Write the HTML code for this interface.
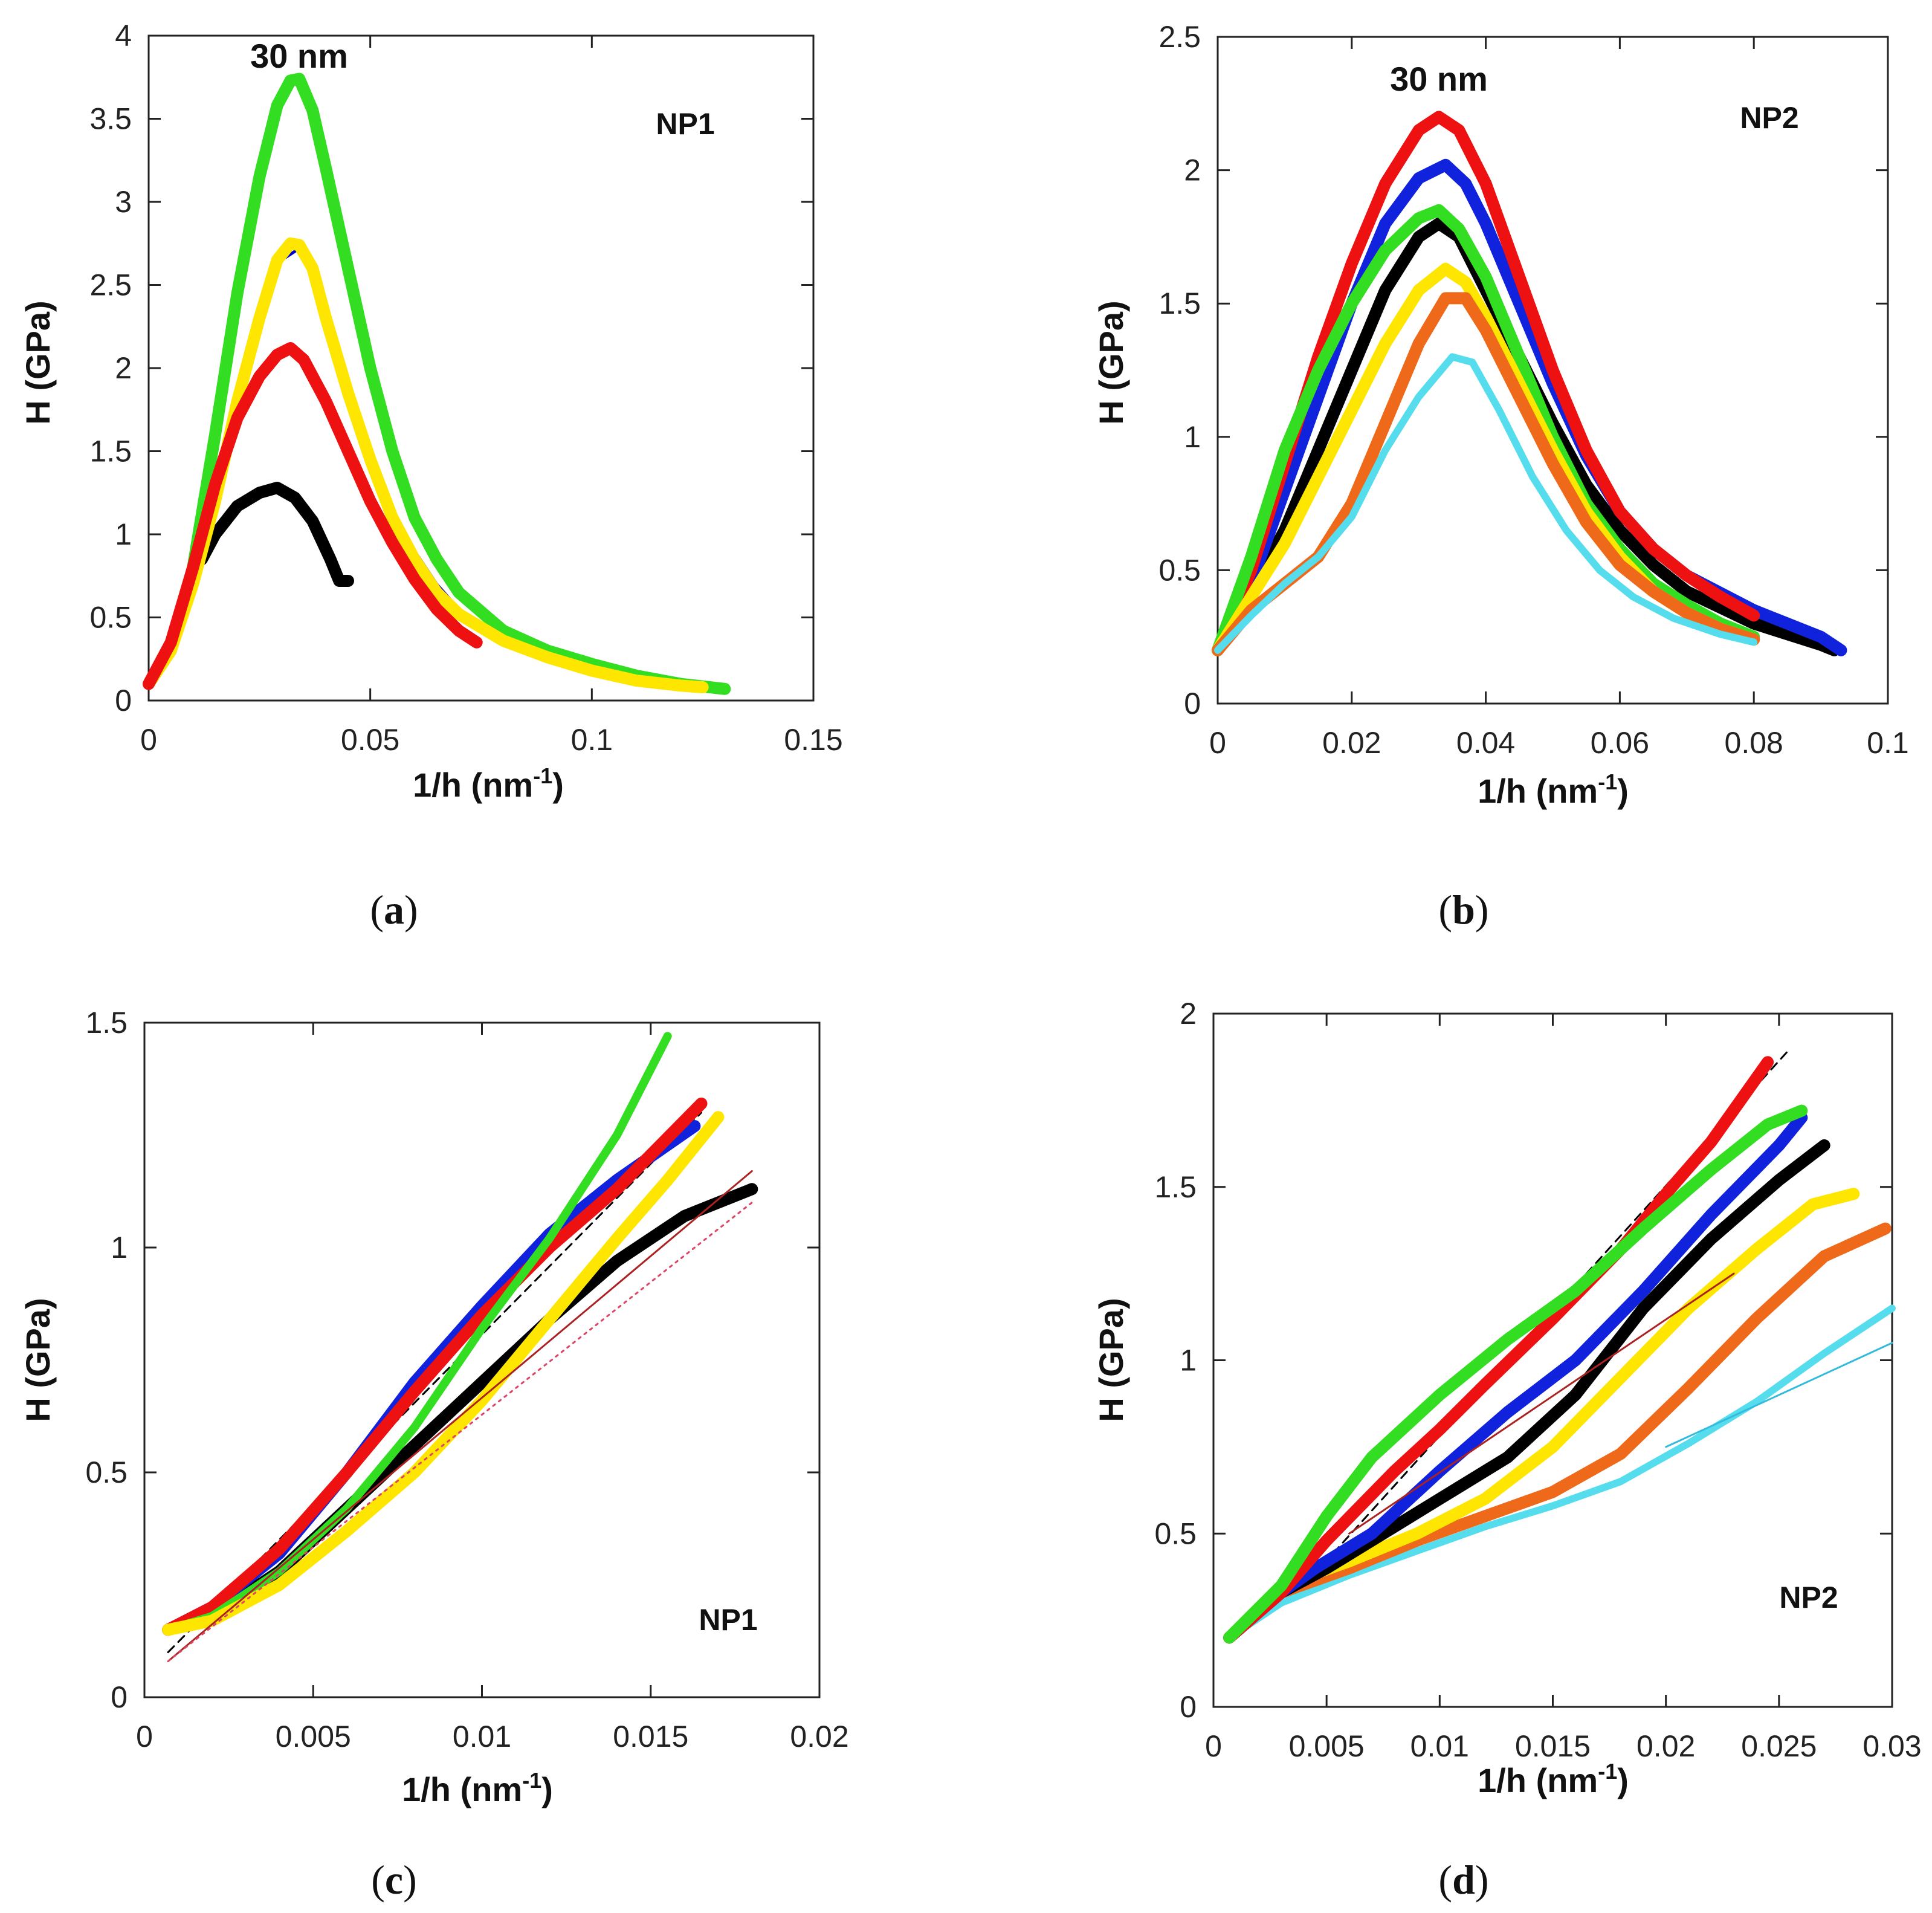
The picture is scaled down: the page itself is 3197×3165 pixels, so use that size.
<!DOCTYPE html>
<html><head><meta charset="utf-8">
<style>
html,body{margin:0;padding:0;background:#fff;}
svg{display:block;}
</style></head>
<body>
<svg id="fig" width="3197" height="3165" viewBox="0 0 3197 3165" xmlns="http://www.w3.org/2000/svg" font-family="Liberation Sans, sans-serif"></svg>
<script>
// ---------- Panel (a) data ----------
const aX = ["0","0.05","0.1","0.15"];
const aXv = [0,0.05,0.1,0.15];
const aYv = [0,0.5,1,1.5,2,2.5,3,3.5,4];
const aYl = ["0","0.5","1","1.5","2","2.5","3","3.5","4"];
const aGreen = [[0,0.1],[0.005,0.3],[0.01,0.8],[0.015,1.6],[0.02,2.45],[0.025,3.15],[0.029,3.58],[0.032,3.73],[0.034,3.74],[0.037,3.55],[0.04,3.2],[0.045,2.6],[0.05,2.0],[0.055,1.5],[0.06,1.1],[0.065,0.85],[0.07,0.65],[0.08,0.42],[0.09,0.3],[0.1,0.22],[0.11,0.15],[0.12,0.1],[0.13,0.07]];
const aBlue = [[0,0.1],[0.005,0.3],[0.01,0.7],[0.015,1.2],[0.02,1.8],[0.025,2.3],[0.03,2.65],[0.034,2.72],[0.037,2.6],[0.04,2.3],[0.045,1.9],[0.05,1.5],[0.055,1.15],[0.06,0.9],[0.065,0.7],[0.07,0.55],[0.08,0.38],[0.09,0.27],[0.1,0.19],[0.11,0.13]];
const aYellow = [[0,0.1],[0.005,0.3],[0.01,0.7],[0.015,1.2],[0.02,1.8],[0.025,2.3],[0.029,2.65],[0.032,2.75],[0.034,2.74],[0.037,2.6],[0.04,2.3],[0.045,1.85],[0.05,1.45],[0.055,1.1],[0.06,0.85],[0.065,0.65],[0.07,0.52],[0.08,0.36],[0.09,0.26],[0.1,0.18],[0.11,0.12],[0.12,0.09],[0.125,0.08]];
const aRed = [[0,0.1],[0.005,0.35],[0.01,0.8],[0.015,1.3],[0.02,1.7],[0.025,1.95],[0.029,2.08],[0.032,2.12],[0.035,2.05],[0.04,1.8],[0.045,1.5],[0.05,1.2],[0.055,0.95],[0.06,0.73],[0.065,0.55],[0.07,0.42],[0.074,0.35]];
const aBlack = [[0.012,0.85],[0.015,1.0],[0.02,1.17],[0.025,1.25],[0.029,1.28],[0.033,1.22],[0.037,1.08],[0.041,0.85],[0.043,0.72],[0.045,0.72]];

// ---------- Panel (b) data ----------
const bXv = [0,0.02,0.04,0.06,0.08,0.1];
const bXl = ["0","0.02","0.04","0.06","0.08","0.1"];
const bYv = [0,0.5,1,1.5,2,2.5];
const bYl = ["0","0.5","1","1.5","2","2.5"];
const bCyan = [[0,0.2],[0.005,0.33],[0.01,0.45],[0.015,0.55],[0.02,0.7],[0.025,0.95],[0.03,1.15],[0.035,1.3],[0.038,1.28],[0.042,1.1],[0.047,0.85],[0.052,0.65],[0.057,0.5],[0.062,0.4],[0.068,0.32],[0.075,0.26],[0.08,0.23]];
const bYellow = [[0,0.2],[0.005,0.4],[0.01,0.6],[0.015,0.85],[0.02,1.1],[0.025,1.35],[0.03,1.55],[0.034,1.63],[0.037,1.58],[0.04,1.45],[0.045,1.2],[0.05,0.95],[0.055,0.72],[0.06,0.55],[0.065,0.42],[0.07,0.34],[0.075,0.28],[0.08,0.24]];
const bBlack = [[0,0.2],[0.005,0.42],[0.01,0.65],[0.015,0.95],[0.02,1.25],[0.025,1.55],[0.03,1.75],[0.033,1.8],[0.036,1.75],[0.04,1.55],[0.045,1.3],[0.05,1.05],[0.055,0.82],[0.06,0.65],[0.065,0.52],[0.07,0.42],[0.08,0.3],[0.09,0.22],[0.092,0.2]];
const bBlue = [[0,0.2],[0.005,0.45],[0.01,0.8],[0.015,1.15],[0.02,1.5],[0.025,1.8],[0.03,1.97],[0.034,2.02],[0.037,1.95],[0.04,1.8],[0.045,1.5],[0.05,1.2],[0.055,0.93],[0.06,0.72],[0.065,0.58],[0.07,0.48],[0.08,0.35],[0.09,0.25],[0.093,0.2]];
const bRed = [[0,0.2],[0.005,0.5],[0.01,0.9],[0.015,1.3],[0.02,1.65],[0.025,1.95],[0.03,2.15],[0.033,2.2],[0.036,2.15],[0.04,1.95],[0.045,1.6],[0.05,1.25],[0.055,0.95],[0.06,0.72],[0.065,0.58],[0.07,0.48],[0.075,0.4],[0.08,0.33]];
const bGreen = [[0,0.2],[0.005,0.55],[0.01,0.95],[0.015,1.25],[0.02,1.5],[0.025,1.7],[0.03,1.82],[0.033,1.85],[0.036,1.78],[0.04,1.6],[0.045,1.3],[0.05,1.0],[0.055,0.75],[0.06,0.58],[0.065,0.45],[0.07,0.37],[0.075,0.3],[0.08,0.25]];
const bOrange = [[0,0.2],[0.005,0.35],[0.01,0.45],[0.015,0.55],[0.02,0.75],[0.025,1.05],[0.03,1.35],[0.034,1.52],[0.037,1.52],[0.04,1.4],[0.045,1.15],[0.05,0.9],[0.055,0.68],[0.06,0.52],[0.065,0.42],[0.07,0.34],[0.075,0.28],[0.08,0.24]];

// ---------- Panel (c) data ----------
const cXv = [0,0.005,0.01,0.015,0.02];
const cXl = ["0","0.005","0.01","0.015","0.02"];
const cYv = [0,0.5,1,1.5];
const cYl = ["0","0.5","1","1.5"];
const cBlack = [[0.0007,0.15],[0.002,0.18],[0.004,0.28],[0.006,0.42],[0.008,0.56],[0.01,0.7],[0.012,0.84],[0.014,0.97],[0.016,1.07],[0.018,1.13]];
const cBlue = [[0.0007,0.15],[0.002,0.2],[0.004,0.32],[0.006,0.5],[0.008,0.7],[0.01,0.87],[0.012,1.03],[0.014,1.15],[0.0163,1.27]];
const cRed = [[0.0007,0.15],[0.002,0.2],[0.004,0.33],[0.006,0.5],[0.008,0.68],[0.01,0.85],[0.012,1.0],[0.014,1.13],[0.0165,1.32]];
const cGreen = [[0.0007,0.15],[0.002,0.18],[0.004,0.28],[0.006,0.42],[0.008,0.6],[0.01,0.82],[0.012,1.02],[0.014,1.25],[0.0155,1.47]];
const cYellow = [[0.0007,0.15],[0.002,0.17],[0.004,0.25],[0.006,0.37],[0.008,0.5],[0.01,0.66],[0.012,0.84],[0.014,1.02],[0.0155,1.15],[0.017,1.29]];
const cFitBlack = [[0.0007,0.1],[0.0165,1.3]];
const cFitRed = [[0.0007,0.08],[0.018,1.17]];
const cFitPink = [[0.0007,0.08],[0.018,1.1]];

// ---------- Panel (d) data ----------
const dXv = [0,0.005,0.01,0.015,0.02,0.025,0.03];
const dXl = ["0","0.005","0.01","0.015","0.02","0.025","0.03"];
const dYv = [0,0.5,1,1.5,2];
const dYl = ["0","0.5","1","1.5","2"];
const dCyan = [[0.0007,0.2],[0.003,0.3],[0.006,0.38],[0.009,0.45],[0.012,0.52],[0.015,0.58],[0.018,0.65],[0.021,0.76],[0.024,0.88],[0.027,1.02],[0.03,1.15]];
const dYellow = [[0.0007,0.2],[0.003,0.35],[0.006,0.42],[0.009,0.5],[0.012,0.6],[0.015,0.75],[0.018,0.95],[0.021,1.15],[0.024,1.32],[0.0265,1.45],[0.0283,1.48]];
const dOrange = [[0.0007,0.2],[0.003,0.33],[0.006,0.4],[0.009,0.48],[0.012,0.55],[0.015,0.62],[0.018,0.73],[0.021,0.92],[0.024,1.12],[0.027,1.3],[0.0297,1.38]];
const dBlack = [[0.0007,0.2],[0.003,0.33],[0.005,0.4],[0.008,0.52],[0.01,0.6],[0.013,0.72],[0.016,0.9],[0.019,1.15],[0.022,1.35],[0.025,1.52],[0.027,1.62]];
const dBlue = [[0.0007,0.2],[0.003,0.33],[0.0045,0.4],[0.007,0.5],[0.01,0.68],[0.013,0.85],[0.016,1.0],[0.019,1.2],[0.022,1.42],[0.025,1.62],[0.026,1.7]];
const dRed = [[0.0007,0.2],[0.003,0.33],[0.005,0.48],[0.008,0.68],[0.01,0.8],[0.012,0.93],[0.015,1.12],[0.018,1.32],[0.02,1.48],[0.022,1.63],[0.0245,1.86]];
const dGreen = [[0.0007,0.2],[0.003,0.35],[0.005,0.55],[0.007,0.72],[0.01,0.9],[0.013,1.06],[0.016,1.2],[0.019,1.38],[0.022,1.55],[0.0245,1.68],[0.026,1.72]];
const dFitBlack = [[0.004,0.35],[0.0255,1.9]];
const dFitRed = [[0.006,0.5],[0.023,1.25]];
const dFitCyan = [[0.02,0.75],[0.03,1.05]];

const NS = "http://www.w3.org/2000/svg";
const fig = document.getElementById('fig');
function mk(tag, attrs, parent){ const e=document.createElementNS(NS,tag); for(const k in attrs) e.setAttribute(k,attrs[k]); (parent||fig).appendChild(e); return e; }

function panel(id, box, xmax, ymax, xv, xl, yv, yl){
  const g = mk('g',{});
  
  
  const sx = v => box.l + v/xmax*(box.r-box.l);
  const sy = v => box.b - v/ymax*(box.b-box.t);
  const frame = mk('rect',{x:box.l,y:box.t,width:box.r-box.l,height:box.b-box.t,fill:'none',stroke:'#222','stroke-width':3},g);
  
  
  xv.forEach((v,i)=>{
    const x=sx(v);
    mk('line',{x1:x,y1:box.b,x2:x,y2:box.b-20,stroke:'#222','stroke-width':3},g);
    mk('line',{x1:x,y1:box.t,x2:x,y2:box.t+20,stroke:'#222','stroke-width':3},g);
    const t=mk('text',{x:x,y:box.b+82,'font-size':50,'text-anchor':'middle',fill:'#222'},g);
    t.textContent=xl[i];
    
    
  });
  yv.forEach((v,i)=>{
    const y=sy(v);
    mk('line',{x1:box.l,y1:y,x2:box.l+20,y2:y,stroke:'#222','stroke-width':3},g);
    mk('line',{x1:box.r,y1:y,x2:box.r-20,y2:y,stroke:'#222','stroke-width':3},g);
    const t=mk('text',{x:box.l-28,y:y+17,'font-size':50,'text-anchor':'end',fill:'#222'},g);
    t.textContent=yl[i];
    
    
  });
  return {g,sx,sy};
}
function series(p, data, color, w, name, dash){
  const d = data.map((pt,i)=>(i?'L':'M')+p.sx(pt[0]).toFixed(1)+' '+p.sy(pt[1]).toFixed(1)).join(' ');
  const attrs={d:d,fill:'none',stroke:color,'stroke-width':w,'stroke-linecap':'round','stroke-linejoin':'round'};
  if(dash) attrs['stroke-dasharray']=dash;
  const e=mk('path',attrs,p.g);
  
  
}
function label(txt,x,y,size,name,opts){
  const t=mk('text',Object.assign({x:x,y:y,'font-size':size,'text-anchor':'middle',fill:'#111'},opts||{}));
  t.textContent=txt;
  
  
  return t;
}
function caption(letter,x,y,name){
  const t=mk('text',{x:x,y:y,'font-size':68,'text-anchor':'middle',fill:'#111',style:'font-family:"Liberation Serif",serif'});
  
  
  const a=mk('tspan',{},t); a.textContent='(';
  const b=mk('tspan',{'font-weight':'bold'},t); b.textContent=letter;
  const c=mk('tspan',{},t); c.textContent=')';
}
function xtitle(x,y,name){
  const t=mk('text',{x:x,y:y,'font-size':56,'font-weight':'bold','text-anchor':'middle',fill:'#111'});
  
  
  const a=mk('tspan',{},t); a.textContent='1/h (nm';
  const b=mk('tspan',{dy:-22,'font-size':36},t); b.textContent='-1';
  const c=mk('tspan',{dy:22},t); c.textContent=')';
}
function ytitle(x,y,name){
  const t=mk('text',{x:0,y:0,'font-size':56,'font-weight':'bold','text-anchor':'middle',fill:'#111',transform:`translate(${x},${y}) rotate(-90)`});
  t.textContent='H (GPa)';
  
  
}
const W=20;
// (a)
const pa = panel('a',{l:246,r:1346,t:59,b:1159},0.15,4,aXv,aX,aYv,aYl);
series(pa,aBlack,'#000',W,'series-black-a');
series(pa,aGreen,'#33dd22',W,'series-green-a');
series(pa,aBlue,'#0000cc',5,'series-blue-a');
series(pa,aYellow,'#ffe600',W,'series-yellow-a');
series(pa,aRed,'#ee1111',W,'series-red-a');
label('30 nm',495,112,56,'peak-annotation-a',{'font-weight':'bold'});
label('NP1',1134,222,50,'sample-label-a',{'font-weight':'bold'});
xtitle(808,1318,'x-axis-title-a'); ytitle(82,600,'y-axis-title-a');
caption('a',652,1528,'caption-a');
// (b)
const pb = panel('b',{l:2015,r:3124,t:61,b:1164},0.1,2.5,bXv,bXl,bYv,bYl);
series(pb,bBlack,'#000',W,'series-black-b');
series(pb,bBlue,'#1122dd',W,'series-blue-b');
series(pb,bRed,'#ee1111',W,'series-red-b');
series(pb,bGreen,'#33dd22',W,'series-green-b');
series(pb,bYellow,'#ffe600',W,'series-yellow-b');
series(pb,bOrange,'#ee6a1a',W,'series-orange-b');
series(pb,bCyan,'#55ddee',12,'series-cyan-b');
label('30 nm',2381,150,56,'peak-annotation-b',{'font-weight':'bold'});
label('NP2',2928,212,50,'sample-label-b',{'font-weight':'bold'});
xtitle(2570,1328,'x-axis-title-b'); ytitle(1858,600,'y-axis-title-b');
caption('b',2422,1528,'caption-b');
// (c)
const pc = panel('c',{l:239,r:1356,t:1692,b:2808},0.02,1.5,cXv,cXl,cYv,cYl);
series(pc,cFitBlack,'#000',3,'fit-black-c','14 10');
series(pc,cBlack,'#000',W,'series-black-c');
series(pc,cBlue,'#1122dd',W,'series-blue-c');
series(pc,cRed,'#ee1111',W,'series-red-c');
series(pc,cGreen,'#33dd22',14,'series-green-c');
series(pc,cYellow,'#ffe600',W,'series-yellow-c');
series(pc,cFitRed,'#aa2222',3,'fit-red-c');
series(pc,cFitPink,'#dd4466',3,'fit-pink-c','4 8');
label('NP1',1205,2697,50,'sample-label-c',{'font-weight':'bold'});
xtitle(790,2980,'x-axis-title-c'); ytitle(82,2250,'y-axis-title-c');
caption('c',652,3133,'caption-c');
// (d)
const pd = panel('d',{l:2008,r:3131,t:1677,b:2824},0.03,2,dXv,dXl,dYv,dYl);
series(pd,dFitBlack,'#000',3,'fit-black-d','14 10');
series(pd,dCyan,'#55ddee',12,'series-cyan-d');
series(pd,dOrange,'#ee6a1a',W,'series-orange-d');
series(pd,dYellow,'#ffe600',W,'series-yellow-d');
series(pd,dBlack,'#000',W,'series-black-d');
series(pd,dBlue,'#1122dd',W,'series-blue-d');
series(pd,dRed,'#ee1111',W,'series-red-d');
series(pd,dGreen,'#33dd22',W,'series-green-d');
series(pd,dFitRed,'#aa2222',3,'fit-red-d');
series(pd,dFitCyan,'#33bbdd',3,'fit-cyan-d');
label('NP2',2993,2660,50,'sample-label-d',{'font-weight':'bold'});
xtitle(2570,2965,'x-axis-title-d'); ytitle(1858,2250,'y-axis-title-d');
caption('d',2422,3133,'caption-d');
</script>
</body></html>
